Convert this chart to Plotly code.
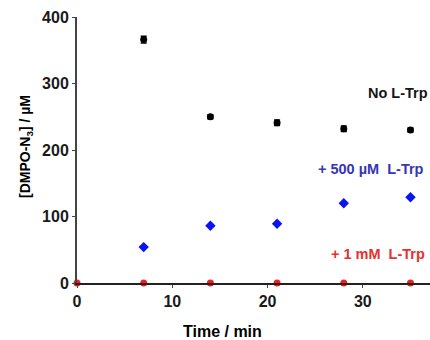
import plotly.graph_objects as go

time_min = [0, 7, 14, 21, 28, 35]
no_trp = [None, 366, 250, 241, 232, 230]
no_trp_err = [0, 5, 3, 4, 4, 3]
trp_500uM = [None, 54, 86, 89, 120, 129]
trp_1mM = [0, 0, 0, 0, 0, 0]

x_ticks = [0, 10, 20, 30]
y_ticks = [0, 100, 200, 300, 400]

label_no = "No L-Trp"
label_500 = "+ 500 µM\u00a0 L-Trp"
label_1mM = "+ 1 mM\u00a0 L-Trp"

FONT = "Liberation Sans, Arial"

fig = go.Figure()
fig.add_trace(go.Scatter(
    x=time_min, y=no_trp, mode="markers",
    marker=dict(symbol="circle", size=7, color="black"),
    error_y=dict(type="data", array=no_trp_err, color="black", thickness=1.5, width=3),
    cliponaxis=False, showlegend=False))
fig.add_trace(go.Scatter(
    x=time_min, y=trp_500uM, mode="markers",
    marker=dict(symbol="diamond", size=8, color="#0a14f0"),
    cliponaxis=False, showlegend=False))
fig.add_trace(go.Scatter(
    x=time_min, y=trp_1mM, mode="markers",
    marker=dict(symbol="circle", size=7, color="#f01e1e"),
    cliponaxis=False, showlegend=False))

fig.add_annotation(x=30.3, y=285, xref="x", yref="y", text=label_no, showarrow=False,
                   xanchor="left", yanchor="middle",
                   font=dict(family=FONT, size=14.5, color="#151515", weight="bold"))
fig.add_annotation(x=25.1, y=172, xref="x", yref="y", text=label_500, showarrow=False,
                   xanchor="left", yanchor="middle",
                   font=dict(family=FONT, size=14.5, color="#3535b8", weight="bold"))
fig.add_annotation(x=26.5, y=44, xref="x", yref="y", text=label_1mM, showarrow=False,
                   xanchor="left", yanchor="middle",
                   font=dict(family=FONT, size=14.5, color="#e83030", weight="bold"))

W, H = 430, 340
ml, mr, mt, mb = 77, 0, 17, 57
pw, ph = W - ml - mr, H - mt - mb

def px_to_paper(px, py):
    return (px - ml) / pw, (H - mb - py) / ph

yx, yy = px_to_paper(26, 147)
fig.add_annotation(x=yx, y=yy, xref="paper", yref="paper", text="<b>[DMPO-N<sub>3</sub>] / µM</b>",
                   showarrow=False, textangle=-90, xanchor="center", yanchor="middle",
                   font=dict(family=FONT, size=14, color="black"))
tx, ty = px_to_paper(222, 331)
fig.add_annotation(x=tx, y=ty, xref="paper", yref="paper", text="<b>Time / min</b>", showarrow=False,
                   xanchor="center", yanchor="middle",
                   font=dict(family=FONT, size=16, color="black"))

axis_font = dict(family=FONT, size=16, color="#1a1a1a")
fig.update_layout(
    width=W, height=H,
    margin=dict(l=ml, r=mr, t=mt, b=mb, autoexpand=False),
    paper_bgcolor="white", plot_bgcolor="white",
    xaxis=dict(range=[0, 37.05], tickvals=x_ticks, ticktext=[f"<b>{v}</b>" for v in x_ticks],
               showgrid=False, zeroline=False, showline=True, linecolor="#222222", linewidth=2,
               ticks="outside", ticklen=3, tickcolor="#444444", tickfont=axis_font),
    yaxis=dict(range=[0, 400], tickvals=y_ticks, ticktext=[f"<b>{v}</b>" for v in y_ticks],
               showgrid=False, zeroline=False, showline=True, linecolor="#444444", linewidth=2,
               ticks="outside", ticklen=3, tickcolor="#444444", tickfont=axis_font),
)

fig.write_html("out.html", config={"displayModeBar": False},
               post_script="document.body.style.margin='0';document.body.style.overflow='hidden';")
